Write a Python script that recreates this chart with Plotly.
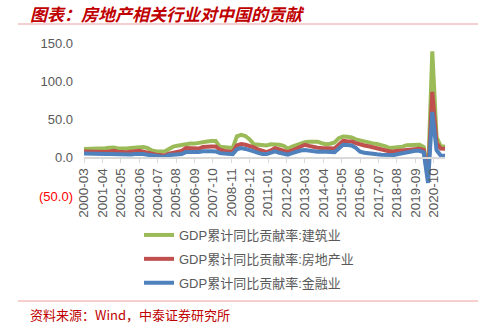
import plotly.graph_objects as go
import pandas as pd

# ---------------- data (quarterly) ----------------
dates = pd.date_range("2000-03-01", "2021-06-01", freq="3MS").strftime("%Y-%m-%d").tolist()

construction = [
    11.3, 11.3, 11.0, 11.2, 11.5, 12.3, 13.0, 13.3, 12.0, 11.7,
    12.2, 12.8, 13.5, 14.3, 14.0, 12.5, 9.5, 8.3, 8.0, 8.3,
    11.5, 14.5, 15.8, 16.8, 18.3, 18.5, 18.5, 19.0, 20.2, 21.3,
    22.0, 22.0, 14.3, 13.5, 12.8, 12.6, 28.0, 30.0, 28.5, 24.0,
    17.5, 17.0, 16.5, 16.0, 17.5, 17.8, 17.0, 15.5, 12.0, 14.5,
    16.5, 18.5, 20.4, 21.0, 21.3, 21.0, 19.0, 17.8, 18.3, 20.0,
    25.5, 27.8, 27.5, 26.5, 24.0, 22.5, 21.5, 19.8, 18.8, 18.0,
    17.0, 15.0, 12.6, 13.0, 13.5, 14.5, 16.5, 17.0, 17.0, 17.0,
    14.0, -24.0, 139.0, 27.0, 15.0, 14.8,
]
real_estate = [
    8.3, 8.0, 7.5, 7.2, 7.0, 7.5, 8.2, 9.0, 8.0, 7.0,
    7.2, 7.8, 8.5, 9.0, 8.0, 6.5, 5.5, 4.0, 3.5, 3.0,
    5.5, 7.0, 7.4, 9.0, 12.6, 12.0, 11.3, 12.0, 14.0, 14.8,
    14.8, 14.8, 10.4, 9.0, 8.0, 7.4, 16.0, 17.8, 17.0, 15.5,
    13.5, 11.0, 9.0, 7.4, 9.5, 12.6, 11.0, 9.0, 7.4, 9.5,
    12.5, 15.0, 17.0, 15.5, 14.0, 13.0, 12.6, 12.2, 11.7, 12.0,
    17.0, 22.0, 21.5, 21.3, 19.0, 17.0, 16.0, 15.0, 13.5, 12.5,
    11.5, 10.0, 8.3, 8.5, 9.0, 10.0, 11.0, 11.7, 11.7, 11.7,
    10.0, -27.0, 86.0, 19.5, 12.0, 11.7,
]
finance = [
    5.6, 5.2, 4.8, 4.8, 4.8, 4.8, 4.8, 4.6, 4.3, 4.0,
    4.0, 4.3, 5.0, 5.6, 5.0, 3.8, 2.6, 2.0, 1.5, 1.3,
    3.5, 4.0, 4.5, 4.8, 7.4, 7.2, 7.0, 7.5, 8.5, 9.0,
    8.5, 8.3, 6.0, 5.5, 5.0, 4.8, 11.0, 12.6, 11.5, 10.4,
    8.3, 6.5, 4.8, 4.8, 6.5, 8.3, 6.5, 4.8, 4.0, 6.0,
    8.0, 9.5, 10.0, 9.0, 8.3, 8.0, 8.3, 8.0, 7.5, 7.4,
    12.0, 17.0, 16.8, 16.0, 13.0, 8.0, 6.5, 5.5, 4.8, 4.5,
    4.0, 3.5, 3.0, 3.5, 4.8, 6.0, 7.5, 9.0, 9.0, 9.0,
    7.0, -33.0, 60.0, 10.0, 3.0, 2.6,
]

series_names = [
    "GDP累计同比贡献率:建筑业",
    "GDP累计同比贡献率:房地产业",
    "GDP累计同比贡献率:金融业",
]
y_tickvals = [-50, 0, 50, 100, 150]
y_ticktext = ['<span style="color:#FF0000">(50.0)</span>', "0.0", "50.0", "100.0", "150.0"]

title_text = "图表：房地产相关行业对中国的贡献"
source_text = "资料来源：Wind，中泰证券研究所"

# ---------------- layout geometry ----------------
W, H = 488, 325
ml, mr, mt, mb = 84, 43, 43, 129
pw, ph = W - ml - mr, H - mt - mb


def px(x):
    return (x - ml) / pw


def py(y):
    return (H - mb - y) / ph


colors = ["#9BBB59", "#C0504D", "#4F81BD"]
font_fam = "Liberation Sans, Arial, Noto Sans CJK SC, sans-serif"

fig = go.Figure()
for name, vals, col in zip(series_names, [construction, real_estate, finance], colors):
    fig.add_trace(go.Scatter(
        x=dates, y=vals, mode="lines", name=name, legendgroup=name,
        line=dict(color=col, width=4),
    ))

fig.update_layout(
    width=W, height=H,
    margin=dict(l=ml, r=mr, t=mt, b=mb, pad=0),
    paper_bgcolor="white", plot_bgcolor="white",
    font=dict(family=font_fam, color="#595959", size=13),
    showlegend=True,
    legend=dict(
        x=px(139), y=py(220), xanchor="left", yanchor="top",
        orientation="v", tracegroupgap=4,
        font=dict(size=13, color="#595959", family=font_fam),
        bgcolor="rgba(0,0,0,0)",
    ),
    xaxis=dict(
        type="date", range=[dates[0], dates[-1]],
        tick0="2000-03-01", dtick="M13", tickformat="%Y-%m",
        tickangle=-90, anchor="free", position=0.25,
        showline=True, linecolor="#D9D9D9", linewidth=2,
        ticks="outside", ticklen=4, tickcolor="#D9D9D9",
        showgrid=False, zeroline=False,
        tickfont=dict(size=13.5, color="#595959"),
    ),
    yaxis=dict(
        range=[-50, 150], tickvals=y_tickvals, ticktext=y_ticktext,
        showgrid=False, zeroline=False, showline=False,
        ticks="", ticklabelstandoff=10,
        tickfont=dict(size=13, color="#595959"),
    ),
    annotations=[
        dict(xref="paper", yref="paper", x=px(28), y=py(13), xanchor="left", yanchor="middle",
             text="<b><i>" + title_text + "</i></b>", showarrow=False,
             font=dict(family="Noto Sans CJK SC", size=17, color="#C00000")),
        dict(xref="paper", yref="paper", x=px(28), y=py(314), xanchor="left", yanchor="middle",
             text=source_text, showarrow=False,
             font=dict(family="Noto Sans CJK SC", size=13, color="#C00000")),
    ],
    shapes=[
        dict(type="line", xref="paper", yref="paper", x0=px(18), x1=px(478), y0=py(24), y1=py(24),
             line=dict(color="#E8A0A0", width=1)),
        dict(type="line", xref="paper", yref="paper", x0=px(18), x1=px(478), y0=py(301), y1=py(301),
             line=dict(color="#E8A0A0", width=1)),
    ],
)

fig.write_html("out.html")
